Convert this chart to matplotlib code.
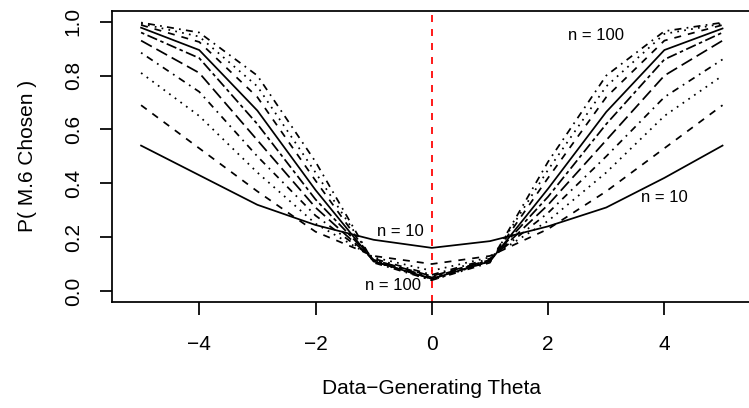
import matplotlib
matplotlib.use("Agg")
import matplotlib.pyplot as plt

plt.rcParams['font.family'] = ['Liberation Sans', 'DejaVu Sans']

theta = [-5, -4, -3, -2, -1, 0, 1, 2, 3, 4, 5]
n_labels = [10, 20, 30, 40, 50, 60, 70, 80, 90, 100]
p_n10 = [0.54, 0.43, 0.32, 0.245, 0.19, 0.16, 0.185, 0.24, 0.31, 0.42, 0.54]
p_n20 = [0.69, 0.53, 0.37, 0.22, 0.13, 0.10, 0.13, 0.23, 0.37, 0.53, 0.69]
p_n30 = [0.81, 0.65, 0.44, 0.25, 0.125, 0.075, 0.125, 0.26, 0.44, 0.65, 0.80]
p_n40 = [0.885, 0.74, 0.50, 0.28, 0.12, 0.06, 0.12, 0.29, 0.50, 0.72, 0.86]
p_n50 = [0.93, 0.81, 0.56, 0.31, 0.115, 0.055, 0.115, 0.32, 0.56, 0.80, 0.93]
p_n60 = [0.96, 0.865, 0.62, 0.34, 0.115, 0.05, 0.115, 0.35, 0.62, 0.86, 0.96]
p_n70 = [0.978, 0.895, 0.67, 0.375, 0.11, 0.045, 0.11, 0.38, 0.665, 0.895, 0.975]
p_n80 = [0.988, 0.925, 0.72, 0.41, 0.11, 0.045, 0.11, 0.42, 0.72, 0.93, 0.988]
p_n90 = [0.993, 0.945, 0.76, 0.44, 0.11, 0.04, 0.11, 0.45, 0.76, 0.955, 0.993]
p_n100 = [0.997, 0.96, 0.80, 0.48, 0.105, 0.04, 0.105, 0.48, 0.80, 0.965, 0.997]
series = [p_n10, p_n20, p_n30, p_n40, p_n50, p_n60, p_n70, p_n80, p_n90, p_n100]

xticks = [-4, -2, 0, 2, 4]
yticks = [0.0, 0.2, 0.4, 0.6, 0.8, 1.0]

lw = 1.26
# R lty 1..6: solid, dashed "44", dotted "13", dotdash "1343", longdash "73", twodash "2262"
ltys = ['-', (0, (4, 4)), (0, (1, 3)), (0, (1, 3, 4, 3)), (0, (7, 3)), (0, (2, 2, 6, 2))]

fig = plt.figure(figsize=(7.49, 4.08), dpi=100)
ax = fig.add_axes([112 / 749, (408 - 301.7) / 408, (751.6 - 112) / 749, (301.7 - 11) / 408])

for i, s in enumerate(series):
    ax.plot(theta, s, color='black', lw=lw, linestyle=ltys[i % 6],
            dash_capstyle='butt', solid_joinstyle='miter')

ax.axvline(0, color='red', lw=lw, linestyle=(0, (4, 4)))

fs_small = 12
ax.text(2.83, 0.95, "n = 100", ha='center', va='center', fontsize=fs_small)
ax.text(4.0, 0.348, "n = 10", ha='center', va='center', fontsize=fs_small)
ax.text(-0.54, 0.22, "n = 10", ha='center', va='center', fontsize=fs_small)
ax.text(-0.66, 0.02, "n = 100", ha='center', va='center', fontsize=fs_small)

ax.set_xlim(-5.5, 5.5)
ax.set_ylim(-0.04, 1.04)
ax.set_xticks(xticks)
ax.set_xticklabels([str(t).replace('-', '\u2212') for t in xticks])
ax.set_yticks(yticks)
ax.set_yticklabels([f"{t:.1f}" for t in yticks])
for lab in ax.get_yticklabels():
    lab.set_rotation(90)
    lab.set_va('center')

fs = 15
ax.tick_params(axis='both', labelsize=fs, length=9, width=lw, color='black')
ax.tick_params(axis='x', pad=15)
ax.tick_params(axis='y', pad=12)
for sp in ax.spines.values():
    sp.set_linewidth(lw)
    sp.set_color('black')

ax.set_xlabel("Data\u2212Generating Theta", fontsize=fs, labelpad=18)
ax.set_ylabel("P( M.6 Chosen )", fontsize=fs, labelpad=19)

fig.savefig("out.png", dpi=100)
